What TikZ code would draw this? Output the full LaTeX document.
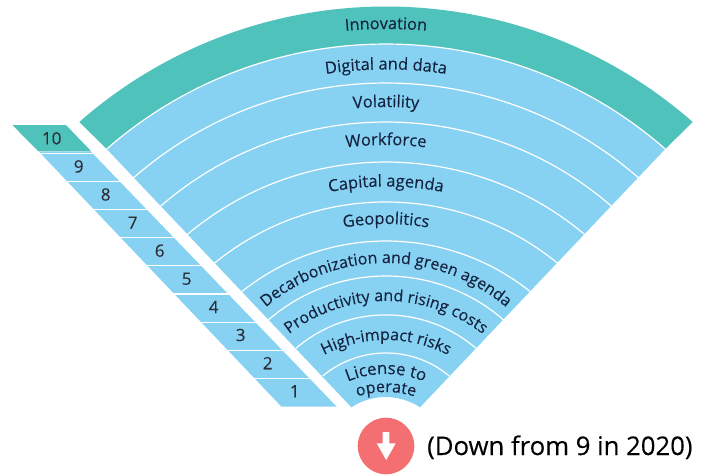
\documentclass[tikz,border=0pt]{standalone}
\usepackage{fontspec}
\setmainfont[FakeBold=0.15]{Open Sans}
\usetikzlibrary{decorations.text}
\definecolor{teal1}{HTML}{4EC2BB}
\definecolor{blue1}{HTML}{87D2F2}
\definecolor{ink}{HTML}{14233F}
\definecolor{num}{HTML}{2E2E38}
\definecolor{redc}{HTML}{F46F72}
\newcommand{\arclabel}[4]{% top y, radius, half angle, text
  \pgfmathsetmacro{\cy}{475-#1-#2}
  \path[postaction={decorate},decoration={text along path,text color=ink,
    text align={center},text={#4}}]
    ([shift={(386,\cy)}]90+#3:#2) arc[start angle=90+#3,end angle=90-#3,radius=#2];
}
\tikzset{numlab/.style={text=num,font=\fontsize{17}{17}\selectfont,inner sep=0pt,anchor=center},
  sep/.style={draw=white,line width=1.2pt}}
\begin{document}
\begin{tikzpicture}[x=1pt,y=1pt]
\useasboundingbox (0,0) rectangle (703,475);
% strip
\fill[blue1] (39,323.3) -- (91,323.3) -- (336.7,68.3) -- (281.5,68.3) -- cycle;
\fill[teal1] (12.3,350) -- (66,350) -- (91.3,323.6) -- (38.5,323.6) -- cycle;
\foreach \i in {1,...,9}{
  \pgfmathsetmacro{\yy}{350-28.17*\i}
  \pgfmathsetmacro{\xa}{12.3+26.9*\i-1}
  \pgfmathsetmacro{\xb}{66+27.07*\i+2}
  \draw[sep] (\xa,\yy) -- (\xb,\yy);
}
\foreach \n/\i in {10/0,9/1,8/2,7/3,6/4,5/5,4/6,3/7,2/8,1/9}{
  \node[numlab] (n\n) at ({51.7+27.0*\i},{336.7-28.1*\i}) {\n};
}
% wedge
\fill[teal1] (79.3,353) arc[start angle=131.27,end angle=48.73,radius=465]
  -- (665.3,326) -- (106.7,326) -- cycle;
\fill[blue1] (106.7,326) arc[start angle=131.2,end angle=48.8,radius=424]
  -- (420,67.7) arc[start angle=56.6,end angle=123.4,radius=62.3] -- cycle;
\foreach \dx/\ye/\R in {279.3/149/424,252.7/178/383.6,226/206.7/343.9,199.3/235/308.6,171.7/263.3/271,144.3/291.7/230.7,117.7/320/179.4,90/348.3/138,63.3/376/98.6}{
  \pgfmathsetmacro{\h}{asin(\dx/\R)}
  \draw[sep] (386-\dx,475-\ye) arc[start angle=90+\h,end angle=90-\h,radius=\R];
}
% labels
\arclabel{29}{445}{30}{|\fontsize{16.3}{16.3}\selectfont|Innovation}
\arclabel{69.5}{405}{30}{|\fontsize{16.5}{16.5}\selectfont|Digital and data}
\arclabel{107}{365}{30}{|\fontsize{16.5}{16.5}\selectfont|Volatility}
\arclabel{145}{325}{30}{|\fontsize{16.5}{16.5}\selectfont|Workforce}
\arclabel{186.5}{290}{30}{|\fontsize{16.5}{16.5}\selectfont|Capital agenda}
\arclabel{224}{250}{30}{|\fontsize{16.5}{16.5}\selectfont|Geopolitics}
\arclabel{263}{185}{50}{|\fontsize{16}{16}\selectfont|Decarbonization and green agenda}
\arclabel{301}{158}{50}{|\fontsize{16}{16}\selectfont|Productivity and rising costs}
\arclabel{340}{135}{38}{|\fontsize{16}{16}\selectfont|High-impact risks}
\arclabel{374}{100}{38}{|\fontsize{16.8}{16.8}\selectfont|License to}
\arclabel{392}{93}{35}{|\fontsize{16}{16}\selectfont|operate}
% badge
\node[circle,fill=redc,minimum size=56.6pt,inner sep=0pt] (badge) at (386,29) {};
\fill[white] (382.7,43) -- (389.3,43) -- (389.3,31.7) -- (395.7,31.7) -- (386.2,15) -- (376.7,31.7) -- (382.7,31.7) -- cycle;
\node[anchor=base west,inner sep=0pt,text=black,font=\fontsize{25.7}{25.7}\selectfont] (note) at (427,20) {(Down from 9 in 2020)};
\end{tikzpicture}
\end{document}
